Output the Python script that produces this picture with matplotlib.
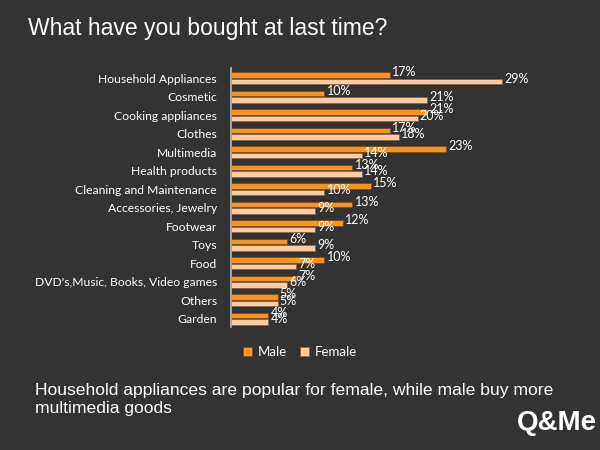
import numpy as np
import matplotlib
matplotlib.use('Agg')
import matplotlib.pyplot as plt

# Survey data (percent)
categories = ['Household Appliances', 'Cosmetic', 'Cooking appliances', 'Clothes',
              'Multimedia', 'Health products', 'Cleaning and Maintenance',
              'Accessories, Jewelry', 'Footwear', 'Toys', 'Food',
              "DVD's,Music, Books, Video games", 'Others', 'Garden']
male = [17, 10, 21, 17, 23, 13, 15, 13, 12, 6, 10, 7, 5, 4]
female = [29, 21, 20, 18, 14, 14, 10, 9, 9, 9, 7, 6, 5, 4]

bg = '#333333'
c_male = '#F7931E'
c_female = '#FFCBA0'

fig = plt.figure(figsize=(6, 4.5), dpi=100, facecolor=bg)
ax = fig.add_axes([0.385, 0.273, 0.548, 0.576])
ax.set_facecolor(bg)

y = np.arange(len(categories))
h = 0.3
off = 0.17
ax.barh(y - off, male, height=h, color=c_male, edgecolor='#7a4a1a', linewidth=0.6, label='Male')
ax.barh(y + off, female, height=h, color=c_female, edgecolor='#806650', linewidth=0.6, label='Female')

# data labels sit a little above their bars, like in the original
for i in range(len(categories)):
    ax.annotate(f'{male[i]}%', (male[i], y[i] - off), xytext=(1.5, 2), textcoords='offset points',
                color='white', fontsize=9, family='Lato', va='center', ha='left')
    ax.annotate(f'{female[i]}%', (female[i], y[i] + off), xytext=(1.5, 2), textcoords='offset points',
                color='white', fontsize=9, family='Lato', va='center', ha='left')

ax.set_xlim(0, 35.2)
ax.set_ylim(len(categories) - 0.55, -0.55)
ax.set_yticks(y)
ax.set_yticklabels(categories, color='white', fontsize=8.7, family='Lato')
ax.set_xticks([])
ax.tick_params(axis='y', length=0, pad=10)
for s in ['top', 'right', 'bottom']:
    ax.spines[s].set_visible(False)
ax.spines['left'].set_color('#bbbbbb')
ax.spines['left'].set_linewidth(1.2)

leg = fig.legend(loc='center', bbox_to_anchor=(0.5, 0.218), ncol=2, frameon=False,
                 handlelength=0.7, handleheight=0.7, handletextpad=0.4,
                 columnspacing=1.0, prop={'family': 'Lato', 'size': 9.5})
for t in leg.get_texts():
    t.set_color('white')

fig.text(0.047, 0.937, 'What have you bought at last time?', color='white',
         fontsize=16.5, family='Liberation Sans', va='center')
fig.text(0.058, 0.112, 'Household appliances are popular for female, while male buy more\nmultimedia goods',
         color='white', fontsize=12.6, family='Liberation Sans', va='center', linespacing=1.25)
fig.text(0.995, 0.03, 'Q&Me', color='white', fontsize=20, fontweight='bold',
         family='Liberation Sans', ha='right', va='bottom')

fig.savefig('out.png', dpi=100, facecolor=bg)
